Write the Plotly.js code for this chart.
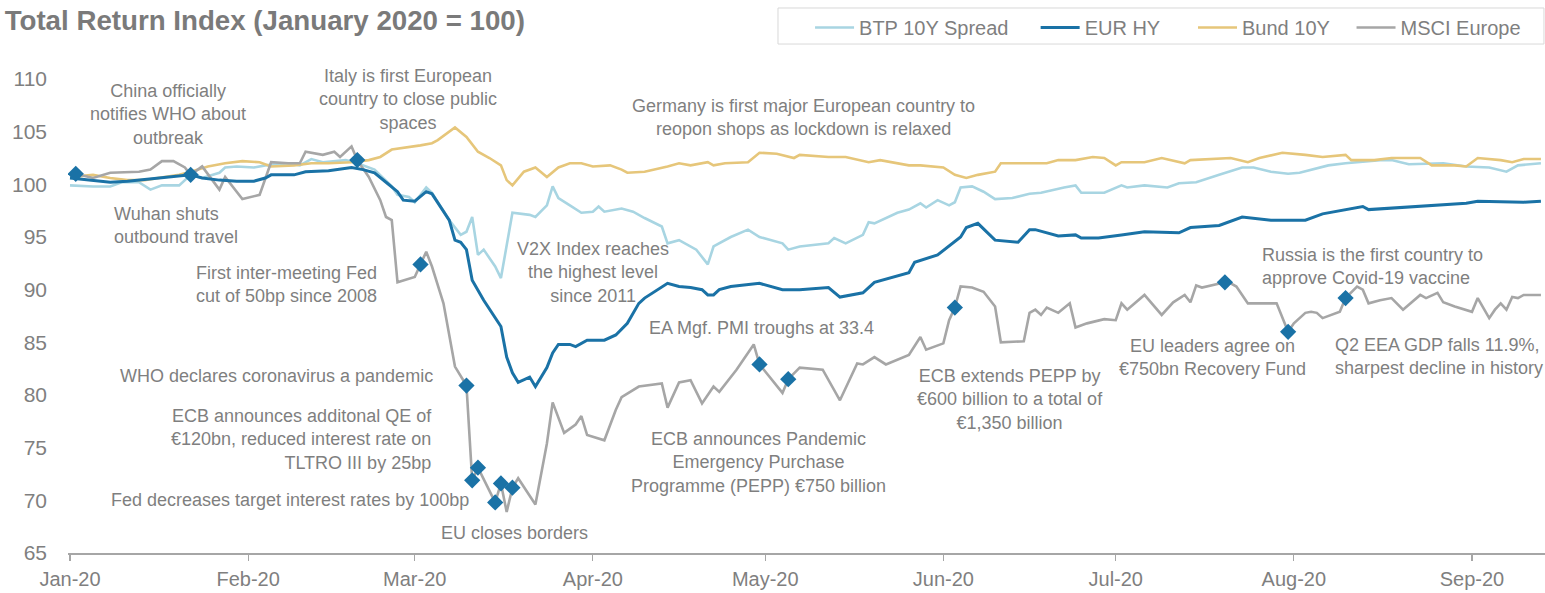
<!DOCTYPE html>
<html>
<head>
<meta charset="utf-8">
<script src="https://cdn.plot.ly/plotly-3.0.1.min.js"></script>
<style>html,body{margin:0;padding:0;background:#fff;}#chart{width:1545px;height:593px;}</style>
</head>
<body>
<div id="chart"></div>
<script>
// ---------- DATA ----------
const seriesNames = ["BTP 10Y Spread", "EUR HY", "Bund 10Y", "MSCI Europe"];

const btpDates = ['2020-01-01','2020-01-05','2020-01-08','2020-01-10','2020-01-13','2020-01-15','2020-01-17','2020-01-20','2020-01-22','2020-01-24','2020-01-27','2020-01-28','2020-01-30','2020-02-02','2020-02-04','2020-02-08','2020-02-10','2020-02-12','2020-02-14','2020-02-18','2020-02-20','2020-02-23','2020-02-26','2020-02-27','2020-02-29','2020-03-01','2020-03-03','2020-03-04','2020-03-07','2020-03-09','2020-03-10','2020-03-11','2020-03-12','2020-03-13','2020-03-15','2020-03-16','2020-03-18','2020-03-21','2020-03-22','2020-03-24','2020-03-25','2020-03-26','2020-03-28','2020-03-30','2020-04-01','2020-04-02','2020-04-03','2020-04-06','2020-04-08','2020-04-10','2020-04-13','2020-04-14','2020-04-16','2020-04-17','2020-04-19','2020-04-21','2020-04-22','2020-04-25','2020-04-28','2020-04-30','2020-05-04','2020-05-05','2020-05-07','2020-05-12','2020-05-13','2020-05-15','2020-05-18','2020-05-19','2020-05-20','2020-05-24','2020-05-26','2020-05-28','2020-05-29','2020-05-31','2020-06-02','2020-06-03','2020-06-04','2020-06-06','2020-06-08','2020-06-10','2020-06-13','2020-06-16','2020-06-18','2020-06-22','2020-06-24','2020-06-25','2020-06-29','2020-07-02','2020-07-03','2020-07-06','2020-07-10','2020-07-12','2020-07-15','2020-07-19','2020-07-23','2020-07-25','2020-07-28','2020-07-31','2020-08-02','2020-08-07','2020-08-10','2020-08-16','2020-08-18','2020-08-21','2020-08-27','2020-08-31','2020-09-04','2020-09-07','2020-09-09','2020-09-13'];
const btpValues = [99.9,99.8,99.8,100.2,100.2,99.5,99.9,99.9,100.9,100.6,101.1,101.6,101.7,101.6,101.8,102.0,101.8,102.4,102.1,102.3,102.0,101.4,99.8,99.0,98.8,98.3,99.7,99.2,96.6,95.2,95.5,96.9,93.3,93.8,92.2,91.1,97.3,97.1,96.9,98.0,99.8,98.7,98.0,97.3,97.4,97.9,97.4,97.7,97.4,96.8,96.0,94.4,94.7,94.4,93.8,92.4,94.1,95.0,95.7,95.0,94.4,93.8,94.1,94.4,94.9,94.4,95.2,96.4,96.3,97.3,97.6,98.2,97.8,98.5,98.0,98.3,99.7,99.8,99.3,98.6,98.7,99.1,99.2,99.7,99.9,99.2,99.2,99.9,99.7,99.9,99.7,100.1,100.2,100.9,101.6,101.6,101.2,101.0,101.1,101.8,102.0,102.3,102.3,101.9,102.0,101.7,101.6,101.2,101.8,102.0];

const hyDates = ['2020-01-01','2020-01-05','2020-01-08','2020-01-11','2020-01-17','2020-01-22','2020-01-24','2020-01-27','2020-01-30','2020-02-02','2020-02-04','2020-02-05','2020-02-09','2020-02-11','2020-02-15','2020-02-19','2020-02-21','2020-02-23','2020-02-25','2020-02-27','2020-02-28','2020-03-01','2020-03-03','2020-03-04','2020-03-07','2020-03-08','2020-03-09','2020-03-10','2020-03-11','2020-03-13','2020-03-16','2020-03-17','2020-03-18','2020-03-19','2020-03-21','2020-03-22','2020-03-24','2020-03-25','2020-03-26','2020-03-28','2020-03-29','2020-03-31','2020-04-03','2020-04-05','2020-04-07','2020-04-09','2020-04-10','2020-04-14','2020-04-16','2020-04-18','2020-04-20','2020-04-21','2020-04-22','2020-04-23','2020-04-25','2020-04-30','2020-05-04','2020-05-07','2020-05-12','2020-05-14','2020-05-18','2020-05-20','2020-05-26','2020-05-27','2020-05-31','2020-06-04','2020-06-05','2020-06-07','2020-06-10','2020-06-14','2020-06-16','2020-06-17','2020-06-21','2020-06-24','2020-06-25','2020-06-28','2020-07-02','2020-07-06','2020-07-12','2020-07-14','2020-07-19','2020-07-23','2020-07-28','2020-08-03','2020-08-06','2020-08-13','2020-08-14','2020-08-23','2020-08-27','2020-08-31','2020-09-02','2020-09-10','2020-09-13'];
const hyValues = [100.6,100.4,100.2,100.3,100.6,100.9,100.6,100.4,100.3,100.3,100.6,100.9,100.9,101.2,101.3,101.6,101.4,101.1,100.2,99.3,98.5,98.4,99.3,99.1,96.6,94.7,94.5,93.8,90.9,89.0,86.5,83.6,82.1,81.2,81.7,80.8,82.6,84.0,84.8,84.8,84.6,85.2,85.2,85.7,86.8,88.7,89.2,90.6,90.3,90.2,90.0,89.5,89.5,90.0,90.3,90.6,90.0,90.0,90.2,89.3,89.7,90.7,91.6,92.6,93.3,95.0,95.9,96.3,94.7,94.5,95.7,95.7,95.1,95.2,94.9,94.9,95.2,95.5,95.4,95.9,96.1,96.9,96.6,96.6,97.2,97.9,97.6,97.9,98.1,98.2,98.4,98.3,98.4];

const bundDates = ['2020-01-01','2020-01-05','2020-01-08','2020-01-11','2020-01-14','2020-01-20','2020-01-22','2020-01-25','2020-01-28','2020-01-31','2020-02-03','2020-02-05','2020-02-09','2020-02-12','2020-02-15','2020-02-19','2020-02-22','2020-02-24','2020-02-26','2020-02-29','2020-03-02','2020-03-04','2020-03-05','2020-03-08','2020-03-10','2020-03-12','2020-03-14','2020-03-16','2020-03-17','2020-03-18','2020-03-20','2020-03-22','2020-03-24','2020-03-26','2020-03-28','2020-03-30','2020-04-01','2020-04-04','2020-04-06','2020-04-07','2020-04-10','2020-04-14','2020-04-16','2020-04-18','2020-04-21','2020-04-22','2020-04-24','2020-04-28','2020-04-30','2020-05-03','2020-05-06','2020-05-07','2020-05-12','2020-05-15','2020-05-19','2020-05-21','2020-05-26','2020-05-28','2020-06-01','2020-06-03','2020-06-05','2020-06-07','2020-06-10','2020-06-11','2020-06-14','2020-06-19','2020-06-21','2020-06-24','2020-06-27','2020-06-29','2020-07-01','2020-07-02','2020-07-06','2020-07-09','2020-07-13','2020-07-14','2020-07-21','2020-07-24','2020-07-26','2020-07-30','2020-08-03','2020-08-06','2020-08-10','2020-08-11','2020-08-15','2020-08-18','2020-08-23','2020-08-25','2020-08-29','2020-08-31','2020-09-02','2020-09-06','2020-09-08','2020-09-10','2020-09-13'];
const bundValues = [100.7,100.9,100.6,100.4,100.4,100.9,101.2,101.7,102.0,102.2,102.1,101.7,101.8,102.0,102.0,102.1,102.3,102.6,103.3,103.5,103.7,103.9,104.2,105.4,104.5,103.1,102.5,101.8,100.4,99.9,101.2,101.6,100.7,101.6,102.0,102.0,101.7,101.8,101.4,101.1,101.2,101.7,102.0,101.8,102.1,101.8,102.0,102.1,103.0,102.9,102.5,102.8,102.6,102.6,102.1,102.3,101.8,101.8,101.6,100.9,100.6,100.9,101.2,102.0,102.0,102.0,102.3,102.3,102.6,102.5,101.8,102.1,102.1,102.5,102.0,102.3,102.5,102.1,102.5,103.0,102.8,102.6,102.8,102.3,102.3,102.5,102.5,101.8,101.8,101.7,102.5,102.3,102.1,102.4,102.4];

const msciDates = ['2020-01-01','2020-01-02','2020-01-05','2020-01-08','2020-01-13','2020-01-15','2020-01-17','2020-01-19','2020-01-21','2020-01-22','2020-01-24','2020-01-27','2020-01-28','2020-01-31','2020-02-03','2020-02-05','2020-02-08','2020-02-10','2020-02-11','2020-02-14','2020-02-16','2020-02-17','2020-02-19','2020-02-20','2020-02-22','2020-02-24','2020-02-25','2020-02-26','2020-02-27','2020-03-01','2020-03-02','2020-03-03','2020-03-04','2020-03-06','2020-03-08','2020-03-10','2020-03-11','2020-03-12','2020-03-15','2020-03-16','2020-03-17','2020-03-18','2020-03-19','2020-03-22','2020-03-24','2020-03-25','2020-03-27','2020-03-29','2020-03-30','2020-03-31','2020-04-03','2020-04-05','2020-04-06','2020-04-09','2020-04-13','2020-04-14','2020-04-16','2020-04-18','2020-04-20','2020-04-22','2020-04-23','2020-04-26','2020-04-29','2020-04-30','2020-05-04','2020-05-05','2020-05-07','2020-05-11','2020-05-14','2020-05-17','2020-05-18','2020-05-20','2020-05-22','2020-05-26','2020-05-28','2020-05-29','2020-06-01','2020-06-02','2020-06-03','2020-06-04','2020-06-06','2020-06-08','2020-06-10','2020-06-11','2020-06-15','2020-06-16','2020-06-17','2020-06-18','2020-06-19','2020-06-21','2020-06-23','2020-06-24','2020-06-26','2020-06-29','2020-07-01','2020-07-02','2020-07-03','2020-07-06','2020-07-09','2020-07-11','2020-07-13','2020-07-14','2020-07-15','2020-07-16','2020-07-20','2020-07-21','2020-07-22','2020-07-24','2020-07-27','2020-07-29','2020-07-31','2020-08-01','2020-08-03','2020-08-04','2020-08-05','2020-08-06','2020-08-09','2020-08-10','2020-08-12','2020-08-13','2020-08-14','2020-08-16','2020-08-18','2020-08-19','2020-08-20','2020-08-23','2020-08-24','2020-08-26','2020-08-27','2020-08-29','2020-09-01','2020-09-02','2020-09-04','2020-09-05','2020-09-06','2020-09-07','2020-09-08','2020-09-09','2020-09-10','2020-09-13'];
const msciValues = [100.8,101.0,100.6,101.1,101.2,101.4,102.2,102.2,101.6,100.9,101.7,99.5,100.7,98.6,99.0,102.1,102.0,102.0,103.1,102.8,103.1,102.6,103.6,102.3,100.7,98.5,96.9,96.6,90.7,91.2,92.4,93.6,92.2,88.7,82.7,80.9,71.9,73.1,69.8,71.6,68.9,71.2,72.1,69.6,75.4,79.3,76.4,77.2,78.0,76.2,75.7,78.6,79.8,80.8,81.1,78.8,81.2,81.4,79.2,80.8,80.3,82.4,84.8,82.9,80.2,81.5,82.6,82.4,79.5,83.0,82.9,83.6,82.9,83.8,85.5,84.3,84.9,87.1,88.3,90.3,90.2,89.8,88.4,85.0,85.1,87.8,88.1,87.6,88.3,87.8,88.7,86.4,86.8,87.2,87.1,88.7,88.1,89.5,87.6,88.8,89.5,88.8,90.4,90.2,90.7,90.6,90.3,88.7,88.7,88.7,86.0,86.8,87.8,87.9,87.8,87.3,87.9,89.2,90.3,90.0,88.7,89.0,89.2,88.6,88.1,89.5,89.2,89.7,88.8,88.4,87.9,89.2,87.3,88.1,88.7,88.1,89.3,89.2,89.5,89.5];

const eventDates = ['2020-01-02','2020-01-22','2020-02-20','2020-03-02','2020-03-10','2020-03-11','2020-03-12','2020-03-15','2020-03-16','2020-03-18','2020-04-30','2020-05-05','2020-06-03','2020-07-20','2020-07-31','2020-08-10'];
const eventValues = [101.0,100.9,102.3,92.4,80.9,71.9,73.1,69.8,71.6,71.2,82.9,81.5,88.3,90.7,86.0,89.2];

const eventLabels = [
  {text:"China officially<br>notifies WHO about<br>outbreak", x:'2020-01-18 02:00', y:106.6, xa:'center', al:'center'},
  {text:"Wuhan shuts<br>outbound travel", x:'2020-01-08 07:00', y:96.05, xa:'left', al:'left'},
  {text:"Italy is first European<br>country to close public<br>spaces", x:'2020-02-28 19:00', y:108.1, xa:'center', al:'center'},
  {text:"Germany is first major European country to<br>reopon shops as lockdown is relaxed", x:'2020-05-07 14:00', y:106.3, xa:'center', al:'center'},
  {text:"First inter-meeting Fed<br>cut of 50bp since 2008", x:'2020-02-23 19:00', y:90.45, xa:'right', al:'right'},
  {text:"V2X Index reaches<br>the highest level<br>since 2011", x:'2020-04-01 00:00', y:91.6, xa:'center', al:'center'},
  {text:"EA Mgf. PMI troughs at 33.4", x:'2020-04-30 10:00', y:86.37, xa:'center', al:'center'},
  {text:"WHO declares coronavirus a pandemic", x:'2020-02-05 21:00', y:81.8, xa:'center', al:'center'},
  {text:"ECB announces additonal QE of<br>€120bn, reduced interest rate on<br>TLTRO III by 25bp", x:'2020-03-04 08:00', y:75.73, xa:'right', al:'right'},
  {text:"Fed decreases target interest rates by 100bp", x:'2020-02-08 07:00', y:70.0, xa:'center', al:'center'},
  {text:"EU closes borders", x:'2020-03-18 10:00', y:66.9, xa:'center', al:'center'},
  {text:"ECB announces Pandemic<br>Emergency Purchase<br>Programme (PEPP) €750 billion", x:'2020-04-29 21:00', y:73.55, xa:'center', al:'center'},
  {text:"ECB extends PEPP by<br>€600 billion to a total of<br>€1,350 billion", x:'2020-06-12 14:00', y:79.62, xa:'center', al:'center'},
  {text:"EU leaders agree on<br>€750bn Recovery Fund", x:'2020-07-17 22:00', y:83.52, xa:'center', al:'center'},
  {text:"Russia is the first country to<br>approve Covid-19 vaccine", x:'2020-07-26 02:00', y:92.16, xa:'left', al:'left'},
  {text:"Q2 EEA GDP falls 11.9%,<br>sharpest decline in history", x:'2020-08-07 19:00', y:83.61, xa:'left', al:'left'}
];

// ---------- STYLE ----------
const FONT = "Liberation Sans, Arial, sans-serif";
const GREY = "#7f7f7f";
const colors = {btp:"#a8d5e2", hy:"#1a72a6", bund:"#e6c67a", msci:"#a6a6a6"};
const pad = n => "\u00A0".repeat(n);

const traces = [
  {x:btpDates, y:btpValues, name:seriesNames[0]+pad(4), type:'scatter', mode:'lines', line:{color:colors.btp, width:2.6}, legendrank:1},
  {x:bundDates, y:bundValues, name:seriesNames[2]+pad(3), type:'scatter', mode:'lines', line:{color:colors.bund, width:2.6}, legendrank:3},
  {x:msciDates, y:msciValues, name:seriesNames[3], type:'scatter', mode:'lines', line:{color:colors.msci, width:2.6}, legendrank:4},
  {x:hyDates, y:hyValues, name:seriesNames[1]+pad(5), type:'scatter', mode:'lines', line:{color:colors.hy, width:3}, legendrank:2},
  {x:eventDates, y:eventValues, type:'scatter', mode:'markers', showlegend:false, hoverinfo:'skip',
   marker:{symbol:'diamond', size:12.5, color:colors.hy}}
];

const annotations = eventLabels.map(a => ({
  text:a.text, x:a.x, y:a.y, xref:'x', yref:'y', xanchor:a.xa, yanchor:'middle', align:a.al,
  showarrow:false, font:{family:FONT, size:18, color:GREY}
}));

const layout = {
  width:1545, height:593,
  margin:{l:68, r:0, t:79, b:40},
  paper_bgcolor:'#ffffff', plot_bgcolor:'#ffffff',
  font:{family:FONT, color:GREY},
  title:{text:"<b>Total Return Index (January 2020 = 100)</b>", font:{family:FONT, size:27.7, color:'#7a7a7a'},
         xref:'container', yref:'container', x:0.003, xanchor:'left', y:0.966, yanchor:'middle'},
  showlegend:true,
  legend:{orientation:'h', x:0.5024, xanchor:'left', y:1.1498, yanchor:'top',
          borderwidth:0, bgcolor:'rgba(0,0,0,0)', itemwidth:39,
          font:{family:FONT, size:20, color:GREY}},
  shapes:[{type:'rect', xref:'paper', yref:'paper', x0:0.4807, x1:0.9993, y0:1.0738, y1:1.1498,
           line:{color:'#d9d9d9', width:1}, fillcolor:'rgba(0,0,0,0)', layer:'below'}],
  xaxis:{type:'date', range:['2019-12-31 15:40','2020-09-13 17:00'],
         tick0:'2020-01-01', dtick:'M1', tickformat:'%b-%y',
         showgrid:false, zeroline:false, showline:true, linecolor:'#a6a6a6', linewidth:1.5,
         ticks:'outside', ticklen:6, tickwidth:1.2, tickcolor:'#a6a6a6',
         tickfont:{family:FONT, size:20, color:GREY}, ticklabelstandoff:1},
  yaxis:{range:[65,110], dtick:5, tick0:65, showgrid:false, zeroline:false, showline:false,
         ticks:'', tickfont:{family:FONT, size:21, color:GREY}, ticklabelstandoff:20},
  annotations:annotations
};

Plotly.newPlot('chart', traces, layout, {displayModeBar:false, staticPlot:true});
</script>
</body>
</html>
